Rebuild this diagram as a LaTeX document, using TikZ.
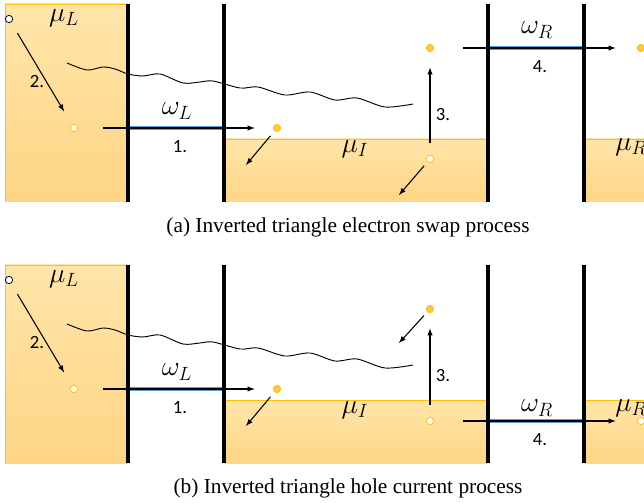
\documentclass[tikz,border=0pt]{standalone}
\usepackage{fontspec}
\setmainfont{Liberation Serif}
\setsansfont{Carlito}
\usepackage{tikz}
\usetikzlibrary{arrows.meta,positioning,calc}

\definecolor{wellline}{RGB}{255,192,0}
\definecolor{welltop}{RGB}{255,229,170}
\definecolor{wellbot}{RGB}{254,213,132}
\definecolor{bandblue}{RGB}{91,155,213}
\definecolor{dotfill}{RGB}{255,196,76}

\begin{document}
\begin{tikzpicture}[x=0.75pt, y=-0.75pt, >=latex, line width=0.8pt]
    \tikzstyle{well} = [top color=welltop, bottom color=wellbot]
    \tikzstyle{rim} = [draw=wellline, line width=0.6pt]
    \tikzstyle{barrier} = [line width=2.4pt]
    \tikzstyle{band} = [draw=bandblue, line width=3.4pt]
    \tikzstyle{wave} = [line width=0.7pt]
    \tikzstyle{core} = [circle, draw=black, fill=white, line width=0.6pt, inner sep=0pt, minimum size=5.5pt]
    \tikzstyle{empty} = [circle, draw=wellline, fill=white, line width=0.6pt, inner sep=0pt, minimum size=5.5pt]
    \tikzstyle{full} = [circle, draw=wellline, fill=dotfill, line width=0.6pt, inner sep=0pt, minimum size=5.5pt]
    \tikzstyle{level} = [font=\fontsize{22}{24}\selectfont, inner sep=1pt]
    \tikzstyle{stepno} = [font=\sffamily\fontsize{14}{16}\selectfont]
    \tikzstyle{caption} = [font=\fontsize{16}{18}\selectfont]

    \useasboundingbox (0,0) rectangle (644,503);

    % (a) electron swap
    \fill[well] (5,4) rectangle (128,202);
    \draw[rim] (5,202) -- (5,4) -- (128,4);
    \fill[well] (224,139) rectangle (488,202);
    \draw[rim] (224,139) -- (488,139);
    \fill[well] (584,139) rectangle (644,202);
    \draw[rim] (584,139) -- (644,139);
    \draw[band] (128,128) -- (224,128);
    \draw[band] (488,48) -- (584,48);
    \foreach \x in {128,224,488,584}
        \draw[barrier] (\x,4) -- (\x,202);
    \draw[wave] plot[smooth] coordinates {(67,63) (87,70) (103,67) (115,69) (128,74) (143,76) (160,74) (183,83) (200,82) (213,81) (240,88) (258,87) (285,95) (310,92) (335,100) (357,98) (385,107) (413,104)};

    \node[core] (a0) at (9,19) {};
    \node[empty] (a1) at (74,128) {};
    \node[full] (a2) at (277,128) {};
    \node[empty] (a3) at (430,159) {};
    \node[full] (a4) at (430,48) {};
    \node[full] (a5) at (641,48) {};
    \coordinate (a2x) at (246,165);
    \coordinate (a3x) at (399,195);

    \draw[->, shorten <=9.3pt, shorten >=11.4pt] (a0) -- (a1);
    \draw[->, shorten <=19pt, shorten >=13.7pt] (a1) -- (a2);
    \draw[->, shorten <=4.6pt] (a2) -- (a2x);
    \draw[->, shorten <=9.2pt, shorten >=11.5pt] (a3) -- (a4);
    \draw[->, shorten <=3.7pt] (a3) -- (a3x);
    \draw[->, shorten <=22pt, shorten >=16pt] (a4) -- (a5);

    \node[level] (muLa) at (64,18) {$\mu_L$};
    \node[level] (omLa) at (177,111) {$\omega_L$};
    \node[level] (muIa) at (355,149) {$\mu_I$};
    \node[level] (muRa) at (631,147) {$\mu_R$};
    \node[level] (omRa) at (537,30) {$\omega_R$};
    \node[stepno] (s1a) at (180,147) {1.};
    \node[stepno] (s2a) at (37,82) {2.};
    \node[stepno] (s3a) at (443,115) {3.};
    \node[stepno] (s4a) at (540,67) {4.};
    \node[caption] (capa) at (348,227) {(a) Inverted triangle electron swap process};

    % (b) hole current
    \begin{scope}[shift={(0,261)}]
    \fill[well] (5,4) rectangle (128,202);
    \draw[rim] (5,202) -- (5,4) -- (128,4);
    \fill[well] (224,139) rectangle (488,202);
    \draw[rim] (224,139) -- (488,139);
    \fill[well] (584,139) rectangle (644,202);
    \draw[rim] (584,139) -- (644,139);
    \draw[band] (128,128) -- (224,128);
    \draw[band] (488,160) -- (584,160);
    \foreach \x in {128,224,488,584}
        \draw[barrier] (\x,4) -- (\x,202);
    \draw[wave] plot[smooth] coordinates {(67,63) (87,70) (103,67) (115,69) (128,74) (143,76) (160,74) (183,83) (200,82) (213,81) (240,88) (258,87) (285,95) (310,92) (335,100) (357,98) (385,107) (413,104)};

    \node[core] (b0) at (9,19) {};
    \node[empty] (b1) at (74,128) {};
    \node[full] (b2) at (277,128) {};
    \node[empty] (b3) at (430,160) {};
    \node[full] (b4) at (430,48) {};
    \node[empty] (b5) at (641,160) {};
    \coordinate (b2x) at (246,165);
    \coordinate (b4x) at (399,82);

    \draw[->, shorten <=9.3pt, shorten >=11.4pt] (b0) -- (b1);
    \draw[->, shorten <=19pt, shorten >=13.7pt] (b1) -- (b2);
    \draw[->, shorten <=4.6pt] (b2) -- (b2x);
    \draw[->, shorten <=9.2pt, shorten >=11.5pt] (b3) -- (b4);
    \draw[->, shorten <=3.7pt] (b4) -- (b4x);
    \draw[->, shorten <=22pt, shorten >=16pt] (b3) -- (b5);

    \node[level] (muLb) at (64,18) {$\mu_L$};
    \node[level] (omLb) at (177,111) {$\omega_L$};
    \node[level] (muIb) at (355,149) {$\mu_I$};
    \node[level] (muRb) at (631,147) {$\mu_R$};
    \node[level] (omRb) at (537,147) {$\omega_R$};
    \node[stepno] (s1b) at (180,147) {1.};
    \node[stepno] (s2b) at (37,82) {2.};
    \node[stepno] (s3b) at (443,115) {3.};
    \node[stepno] (s4b) at (540,179) {4.};
    \node[caption] (capb) at (348,227) {(b) Inverted triangle hole current process};
    \end{scope}
\end{tikzpicture}
\end{document}
